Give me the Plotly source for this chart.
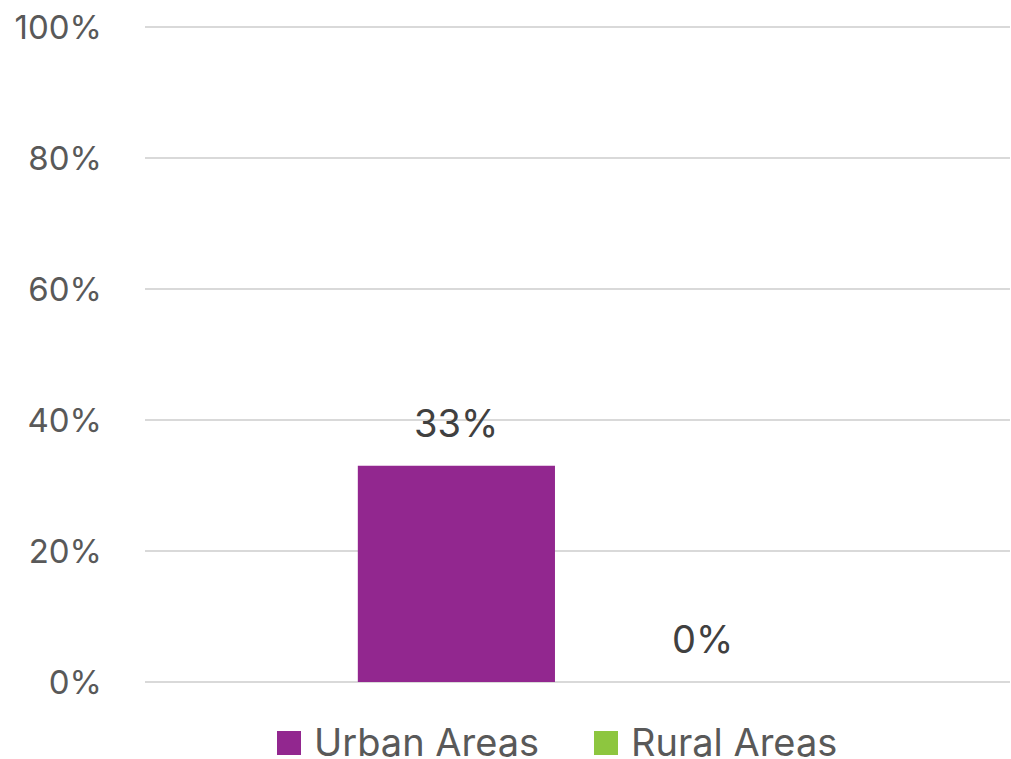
import plotly.graph_objects as go

# Share of respondents by area type
category = ["Areas"]
series_names = ["Urban Areas", "Rural Areas"]
series_values = [[0.33], [0.0]]
series_colors = ["#92278F", "#8DC63F"]
y_ticks = [0, 0.2, 0.4, 0.6, 0.8, 1.0]

FONT = "Inter, Roboto, sans-serif"

# plot box in pixels (used to place the legend below the axis)
W, H = 1011, 759
ML, MR, MT, MB = 145, 1, 25, 75
PW, PH = W - ML - MR, H - MT - MB

BARGAP, BARGROUPGAP = 0.44, 0.186
n_series = len(series_names)
slot = (1 - BARGAP) / n_series  # width of each series' slot, in category units


def px_x(x):
    return (x - ML) / PW


def px_y(y):
    return (H - MB - y) / PH


fig = go.Figure()
for i, (name, vals, color) in enumerate(zip(series_names, series_values, series_colors)):
    fig.add_trace(go.Bar(
        x=category, y=vals, name=name, marker_color=color,
        marker_line_width=0, showlegend=False,
    ))
    # value label above each bar
    shift = (i - (n_series - 1) / 2) * slot * PW
    for cat, v in zip(category, vals):
        fig.add_annotation(
            x=cat, y=v, xref="x", yref="y", xshift=shift + 4 * i, yshift=18,
            text=f"{v:.0%}", showarrow=False, yanchor="bottom",
            font=dict(family=FONT, size=38, color="#404040"),
        )

# legend: colour square + series name, laid out horizontally
legend_left = [277, 594]
sq = 24
legend_cy = 743
for name, color, lx in zip(series_names, series_colors, legend_left):
    fig.add_shape(
        type="rect", xref="paper", yref="paper",
        x0=px_x(lx), x1=px_x(lx + sq),
        y0=px_y(legend_cy + sq / 2), y1=px_y(legend_cy - sq / 2),
        fillcolor=color, line_width=0,
    )
    fig.add_annotation(
        xref="paper", yref="paper", x=px_x(lx + sq + 11), y=px_y(legend_cy - 1),
        xanchor="left", yanchor="middle", text=name, showarrow=False,
        font=dict(family=FONT, size=38, color="#595959"),
    )

fig.update_layout(
    width=W, height=H,
    margin=dict(l=ML, r=MR, t=MT, b=MB, autoexpand=False),
    paper_bgcolor="white", plot_bgcolor="white",
    barmode="group", bargap=BARGAP, bargroupgap=BARGROUPGAP,
    showlegend=False,
    xaxis=dict(showticklabels=False, showgrid=False, zeroline=False, showline=False),
    yaxis=dict(
        range=[-0.003, 1.003], tickvals=y_ticks, tickformat=".0%",
        tickfont=dict(family=FONT, size=33, color="#595959"),
        showgrid=True, gridcolor="#d9d9d9", gridwidth=2,
        zeroline=False, showline=False, ticks="", ticklabelstandoff=42,
    ),
)

fig.write_html("out.html")
